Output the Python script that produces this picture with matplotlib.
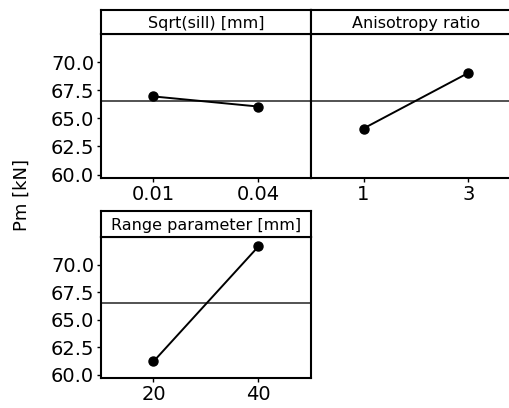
import matplotlib.pyplot as plt
import numpy as np

# main effects of each factor on Pm
factors = ["Sqrt(sill) [mm]", "Anisotropy ratio", "Range parameter [mm]"]
levels = [["0.01", "0.04"], ["1", "3"], ["20", "40"]]
means = [[66.95, 66.05], [64.1, 69.05], [61.2, 71.65]]

grand_mean = np.mean(means)

W, H = 510, 408
fig = plt.figure(figsize=(W / 100, H / 100), dpi=100)


def px_box(left, top, right, bottom):
    # pixel box -> figure fraction rect
    return [left / W, (H - bottom) / H, (right - left) / W, (bottom - top) / H]


# (left, strip top, strip bottom, axes bottom) for each panel
boxes = [(101, 10, 34, 178), (311, 10, 34, 178), (101, 211, 237, 378)]

for i, (name, lv, vals) in enumerate(zip(factors, levels, means)):
    left, s_top, s_bot, a_bot = boxes[i]
    ax = fig.add_axes(px_box(left, s_bot, left + 210, a_bot))
    strip = fig.add_axes(px_box(left, s_top, left + 210, s_bot))

    x = np.arange(len(lv))
    ax.axhline(grand_mean, color="#444444", lw=1.3, zorder=1)
    ax.plot(x, vals, color="black", lw=1.4, marker="o", markersize=6.5, zorder=3)
    ax.set_xlim(-0.5, 1.5)
    ax.set_ylim(59.7, 72.5)
    ax.set_xticks(x)
    ax.set_xticklabels(lv)
    ax.set_yticks([60.0, 62.5, 65.0, 67.5, 70.0])
    ax.tick_params(labelsize=14, length=3, width=1, pad=2)
    if i == 1:
        ax.tick_params(axis="y", left=False, labelleft=False)
    for sp in ax.spines.values():
        sp.set_linewidth(1.5)

    strip.set_xticks([])
    strip.set_yticks([])
    for sp in strip.spines.values():
        sp.set_linewidth(1.5)
    strip.text(0.5, 0.45, name, ha="center", va="center", fontsize=11.5,
               transform=strip.transAxes)

fig.text(22 / W, (H - 195) / H, "Pm [kN]", rotation=90, ha="center", va="center",
         fontsize=13)

fig.savefig("out.png", dpi=100)
